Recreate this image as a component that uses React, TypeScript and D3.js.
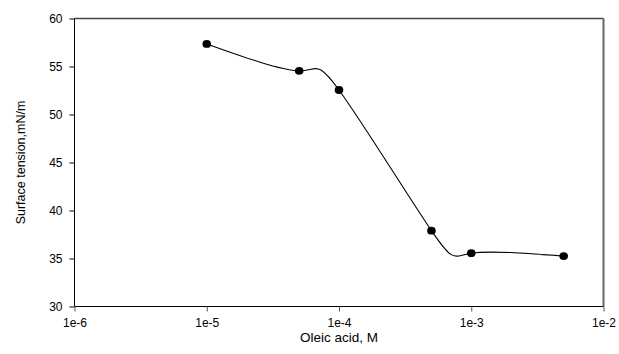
import React, { useEffect, useRef } from 'react';
import * as d3 from 'd3';

// Oleic acid concentration (M) vs surface tension (mN/m)
const concentrations = [1e-5, 5e-5, 1e-4, 5e-4, 1e-3, 5e-3];
const tensions = [57.35, 54.55, 52.55, 37.9, 35.55, 35.25];
const xTicks = [1e-6, 1e-5, 1e-4, 1e-3, 1e-2];
const xTickLabels = ['1e-6', '1e-5', '1e-4', '1e-3', '1e-2'];
const yTicks = [30, 35, 40, 45, 50, 55, 60];

const App = () => {
  const svgRef = useRef<SVGSVGElement>(null);

  useEffect(() => {
    const svg = d3.select(svgRef.current);
    svg.selectAll('*').remove();

    const left = 74.5, right = 603.5, top = 18.5, bottom = 306.5;
    const font = 'Liberation Sans, Arial, sans-serif';

    const x = d3.scaleLog().domain([1e-6, 1e-2]).range([left, right]);
    const y = d3.scaleLinear().domain([30, 60]).range([bottom, top]);

    // frame: top and right in gray
    svg.append('line')
      .attr('x1', left).attr('x2', right).attr('y1', top).attr('y2', top)
      .attr('stroke', '#444').attr('stroke-width', 1.5);
    svg.append('line')
      .attr('x1', right).attr('x2', right).attr('y1', top).attr('y2', bottom)
      .attr('stroke', '#666').attr('stroke-width', 2);

    // y axis
    const yAxis = svg.append('g')
      .attr('transform', `translate(${left},0)`)
      .call(d3.axisLeft(y).tickValues(yTicks).tickSize(5).tickPadding(7));
    yAxis.select('.domain').attr('stroke', '#000').attr('d', `M0,${top}V${bottom}`);
    yAxis.selectAll('text').attr('font-family', font).attr('font-size', 12).attr('fill', '#000');

    // x axis
    const xAxis = svg.append('g')
      .attr('transform', `translate(0,${bottom})`)
      .call(d3.axisBottom(x).tickValues(xTicks).tickFormat((_, i) => xTickLabels[i]).tickSize(5).tickPadding(7));
    xAxis.select('.domain').attr('stroke', '#000').attr('d', `M${left},0H${right}`);
    xAxis.selectAll('.tick line').attr('stroke', '#555');
    xAxis.selectAll('text').attr('font-family', font).attr('font-size', 12).attr('fill', '#000');

    const data = concentrations.map((c, i) => ({ c, t: tensions[i] }));

    const line = d3.line<{ c: number; t: number }>()
      .x(d => x(d.c))
      .y(d => y(d.t))
      .curve(d3.curveNatural);

    svg.append('path')
      .datum(data)
      .attr('fill', 'none')
      .attr('stroke', '#000')
      .attr('stroke-width', 1.1)
      .attr('d', line);

    svg.selectAll('.pt')
      .data(data)
      .enter().append('ellipse')
      .attr('class', 'pt')
      .attr('cx', d => x(d.c))
      .attr('cy', d => y(d.t))
      .attr('rx', 4.3)
      .attr('ry', 3.9)
      .attr('fill', '#000');

    svg.append('text')
      .attr('x', (left + right) / 2)
      .attr('y', 342)
      .attr('text-anchor', 'middle')
      .attr('font-family', font)
      .attr('font-size', 13.5)
      .text('Oleic acid, M');

    svg.append('text')
      .attr('transform', `translate(25,${(top + bottom) / 2}) rotate(-90)`)
      .attr('text-anchor', 'middle')
      .attr('font-family', font)
      .attr('font-size', 12.5)
      .text('Surface tension,mN/m');
  }, []);

  return (
    <svg ref={svgRef} width={619} height={354} style={{ position: 'absolute', left: 0, top: 0, background: '#fff' }}></svg>
  );
};

export default App;
